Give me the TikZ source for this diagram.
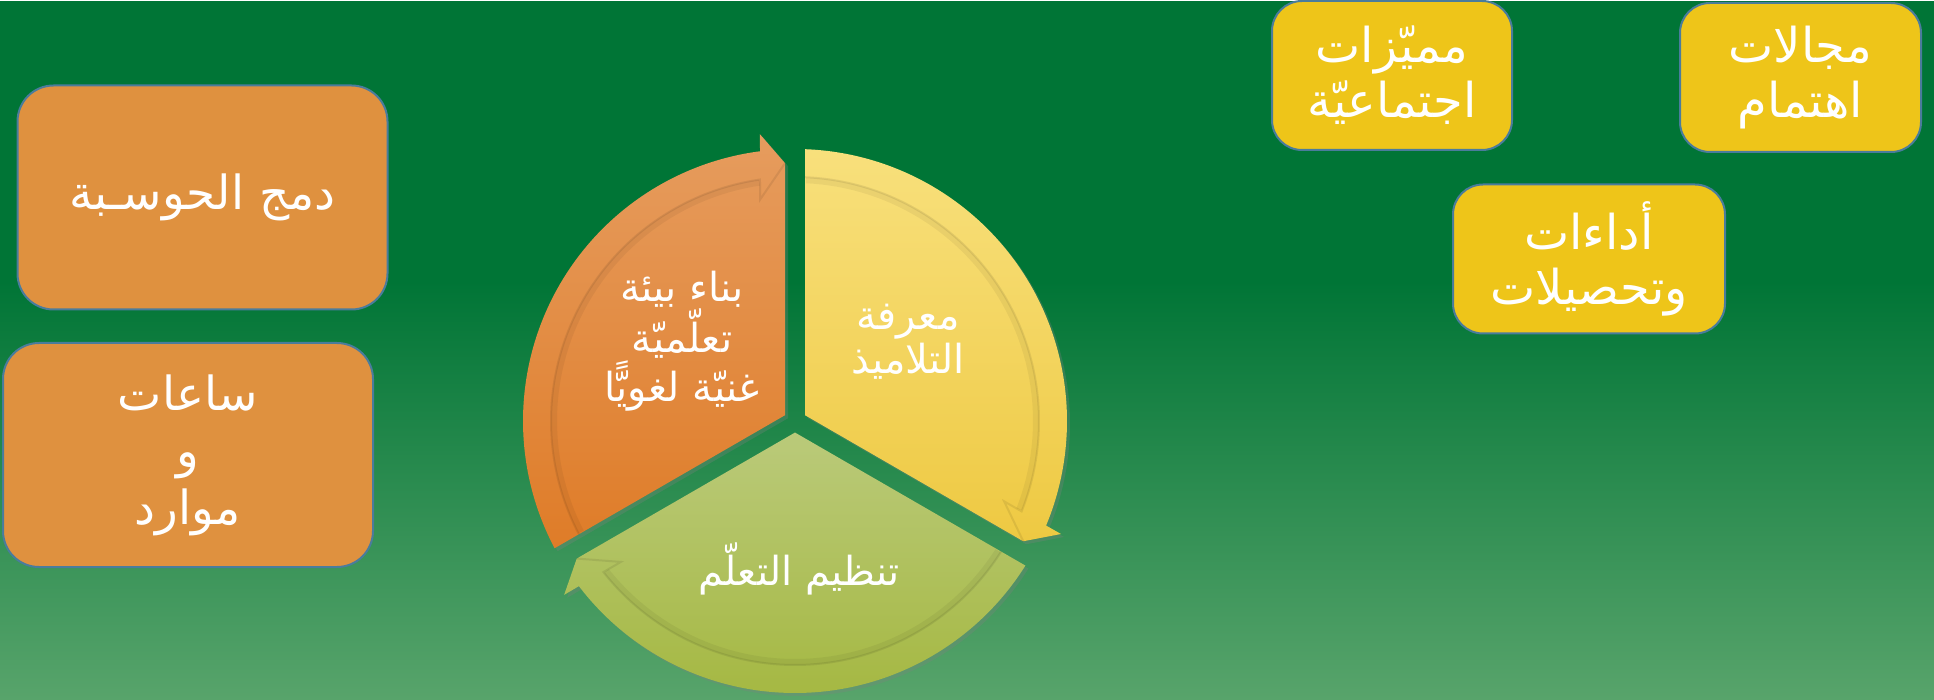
\documentclass[tikz,border=0pt]{standalone}
\usepackage{fontspec}
\usetikzlibrary{shadows}
\newfontfamily\arabicfont[Script=Arabic]{DejaVu Sans}
\TeXXeTstate=1
\newcommand\rl[1]{\beginR#1\endR}

\definecolor{bgdark}{HTML}{007536}
\definecolor{bglight}{HTML}{58A46B}
\definecolor{boxorange}{HTML}{DF913F}
\definecolor{boxyellow}{HTML}{EEC519}
\definecolor{boxline}{HTML}{4A7C9C}
\definecolor{orngtop}{HTML}{E69C5E}
\definecolor{orngbot}{HTML}{DF7C28}
\definecolor{ylwtop}{HTML}{F8E07C}
\definecolor{ylwbot}{HTML}{EEC942}
\definecolor{grntop}{HTML}{BACA7A}
\definecolor{grnbot}{HTML}{A5B842}

\begin{document}
\begin{tikzpicture}
  [
    x                   = 0.5pt,
    y                   = -0.5pt,
    every node/.style   = {font=\arabicfont, text=white, align=center},
    orangebox/.style    = {draw=boxline, line width=1pt, fill=boxorange,
                           rounded corners=18pt, minimum width=185pt,
                           minimum height=112pt,
                           font=\arabicfont\fontsize{23.5}{28.5}\selectfont},
    yellowbox/.style    = {draw=boxline, line width=1pt, fill=boxyellow,
                           rounded corners=15pt, minimum height=74.5pt,
                           font=\arabicfont\fontsize{24}{27.5}\selectfont},
    cyctext/.style      = {font=\arabicfont\fontsize{20}{22}\selectfont},
    segshadow/.style    = {drop shadow={shadow xshift=1.5pt, shadow yshift=-1.5pt, opacity=0.3}}
  ]
  % background
  \fill[bgdark] (0,0) rectangle (1934,699);
  \shade[top color=bgdark, bottom color=bglight] (0,280) rectangle (1934,699);

  % segmented cycle
  \begin{scope}[shift={(795,420)}]
    \foreach \a/\ctop/\cbot in {150/orngtop/orngbot, 270/ylwtop/ylwbot, 30/grntop/grnbot} {
      \pgfmathsetmacro\b{\a+120}
      \shade[top color=\ctop, bottom color=\cbot, segshadow]
        (\a+60:11.55) -- (\a+2.11:272)
        arc[start angle=\a+2.11, end angle=\b-7.39, radius=272]
        -- (\b-6.98:289) -- (\b-2.22:258) -- cycle;
      \draw[black, opacity=0.05, line width=3pt]
        (\a+2.6:241) arc[start angle=\a+2.6, end angle=\b-8.5, radius=241];
      \draw[black, opacity=0.08, line width=1pt]
        (\a+2.35:244) arc[start angle=\a+2.35, end angle=\b-8.25, radius=244]
        -- (\b-8.99:224) -- (\b-2.22:258);
    }
  \end{scope}

  \node[cyctext] (build) at (682,340) {\rl{بناء بيئة}\\\rl{تعلّميّة}\\\rl{غنيّة لغويًّا}};
  \node[cyctext] (know)  at (908,341) {\rl{معرفة}\\\rl{التلاميذ}};
  \node[cyctext] (organ) at (799,568) {\rl{تنظيم التعلّم}};

  % left boxes
  \node[orangebox] (comp)  at (202.5,196.5) {\rl{دمج الحوسـبة}};
  \node[orangebox] (hours) at (188,454) {\rl{ساعات}\\\rl{و}\\\rl{موارد}};

  % right boxes
  \node[yellowbox, minimum width=120pt] (social)   at (1392,74.5) {\rl{مميّزات}\\\rl{اجتماعيّة}};
  \node[yellowbox, minimum width=120.5pt] (interest) at (1800.5,76.5) {\rl{مجالات}\\\rl{اهتمام}};
  \node[yellowbox, minimum width=136pt] (results)  at (1589,258) {\rl{أداءات}\\\rl{وتحصيلات}};

  \useasboundingbox (0,0) rectangle (1934,699);
\end{tikzpicture}
\end{document}
